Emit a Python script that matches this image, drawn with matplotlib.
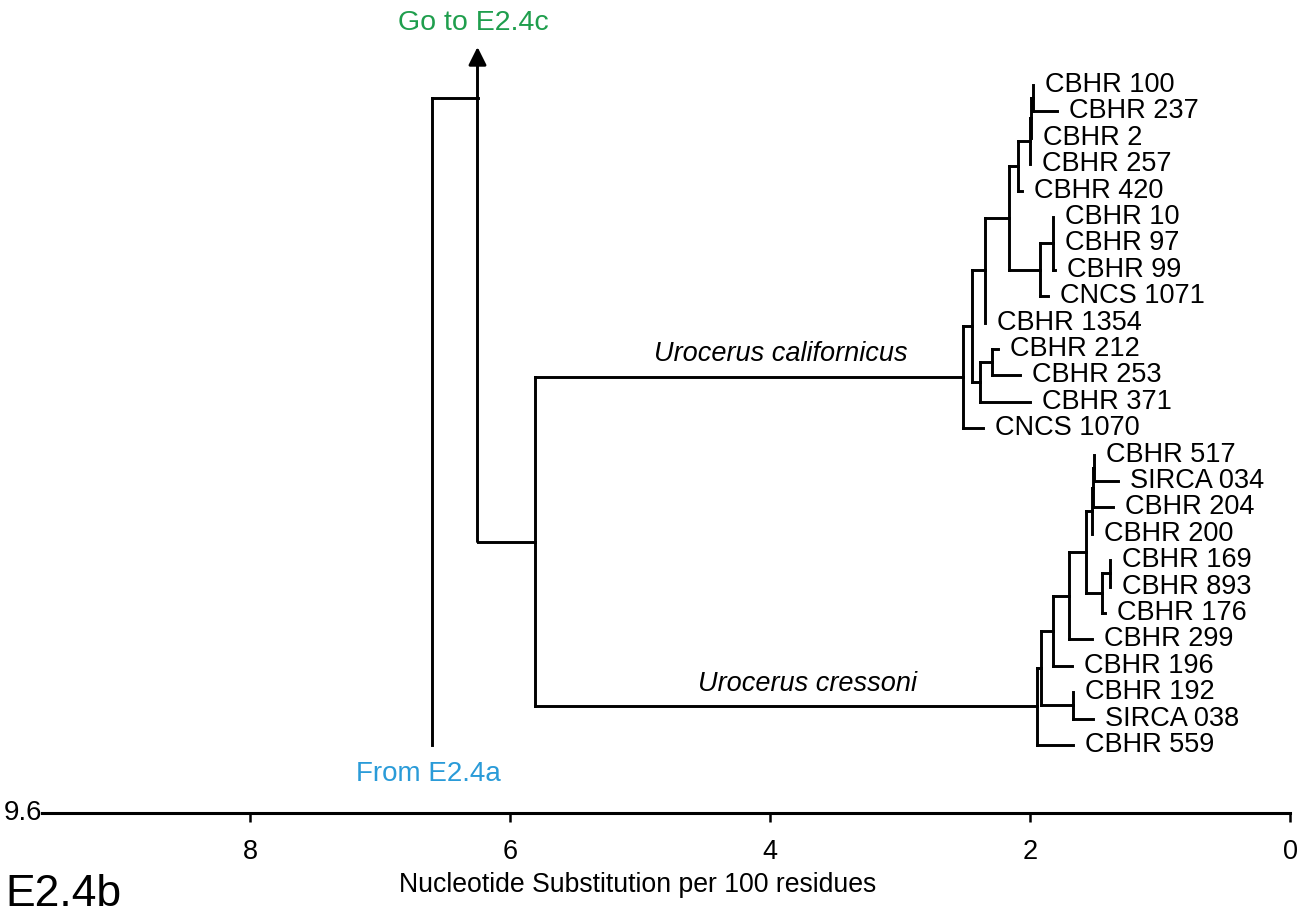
import matplotlib
matplotlib.use("Agg")
import matplotlib.pyplot as plt

plt.rcParams['font.family'] = ['Liberation Sans', 'DejaVu Sans']

# ---------------- data ----------------
leaf_names = ["CBHR 100", "CBHR 237", "CBHR 2", "CBHR 257", "CBHR 420",
              "CBHR 10", "CBHR 97", "CBHR 99", "CNCS 1071", "CBHR 1354",
              "CBHR 212", "CBHR 253", "CBHR 371", "CNCS 1070",
              "CBHR 517", "SIRCA 034", "CBHR 204", "CBHR 200", "CBHR 169",
              "CBHR 893", "CBHR 176", "CBHR 299", "CBHR 196", "CBHR 192",
              "SIRCA 038", "CBHR 559"]
# tip positions (substitutions per 100 residues, measured back from 0)
leaf_tips = [1.977, 1.792, 1.992, 2.000, 2.062,
             1.823, 1.823, 1.808, 1.862, 2.346,
             2.246, 2.077, 2.000, 2.362,
             1.508, 1.323, 1.362, 1.520, 1.385,
             1.385, 1.423, 1.523, 1.677, 1.670,
             1.515, 1.669]

# internal nodes: name, depth, children
node_names = ["n100_237", "n_2", "n_257", "n_420", "n10_97_99", "n_1071",
              "n_upper", "n_1354", "n212_253", "n_371", "n_lower", "californicus",
              "n517_034", "n_204", "n_200", "n169_893", "n_176", "n_mid",
              "n_299", "n_196", "n192_038", "n_inner", "cressoni", "urocerus"]
node_depths = [1.977, 1.992, 2.000, 2.092, 1.823, 1.923,
               2.162, 2.346, 2.292, 2.385, 2.446, 2.515,
               1.508, 1.515, 1.520, 1.385, 1.446, 1.569,
               1.700, 1.823, 1.670, 1.915, 1.946, 5.810]
node_children = [["CBHR 100", "CBHR 237"], ["n100_237", "CBHR 2"], ["n_2", "CBHR 257"],
                 ["n_257", "CBHR 420"], ["CBHR 10", "CBHR 97", "CBHR 99"],
                 ["n10_97_99", "CNCS 1071"], ["n_420", "n_1071"], ["n_upper", "CBHR 1354"],
                 ["CBHR 212", "CBHR 253"], ["n212_253", "CBHR 371"], ["n_1354", "n_371"],
                 ["n_lower", "CNCS 1070"],
                 ["CBHR 517", "SIRCA 034"], ["n517_034", "CBHR 204"], ["n_204", "CBHR 200"],
                 ["CBHR 169", "CBHR 893"], ["n169_893", "CBHR 176"], ["n_200", "n_176"],
                 ["n_mid", "CBHR 299"], ["n_299", "CBHR 196"], ["CBHR 192", "SIRCA 038"],
                 ["n_196", "n192_038"], ["n_inner", "CBHR 559"], ["californicus", "cressoni"]]

link_depth = 6.25     # branch leading to E2.4c
root_depth = 6.60     # branch coming from E2.4a
clade_labels = ["Urocerus californicus", "Urocerus cressoni"]
x_ticks = [8, 6, 4, 2, 0]
x_max = 9.6

# ---------------- layout ----------------
fig = plt.figure(figsize=(13.09, 9.18), dpi=100)
ax = fig.add_axes([42 / 1309, 105 / 918, (1290 - 42) / 1309, 813 / 918])
ax.set_xlim(x_max, 0)
ax.set_ylim(27.58, -3.22)

LW = 2.1
pos_x = {n: t for n, t in zip(leaf_names, leaf_tips)}
pos_y = {n: i for i, n in enumerate(leaf_names)}
node_map = dict(zip(node_names, zip(node_depths, node_children)))


def place(name):
    if name in pos_y:
        return pos_y[name]
    depth, kids = node_map[name]
    ys = [place(k) for k in kids]
    pos_x[name] = depth
    pos_y[name] = (ys[0] + ys[-1]) / 2.0
    return pos_y[name]


place("urocerus")

for name in node_names:
    depth, kids = node_map[name]
    ky = [pos_y[k] for k in kids]
    ax.plot([depth, depth], [min(ky), max(ky)], color='black', lw=LW,
            solid_capstyle='projecting')
    for k in kids:
        if abs(pos_x[k] - depth) > 1e-9:
            ax.plot([depth, pos_x[k]], [pos_y[k], pos_y[k]], color='black', lw=LW,
                    solid_capstyle='projecting')

# leaf labels
for n in leaf_names:
    ax.annotate(n, xy=(pos_x[n], pos_y[n]), xytext=(8.5, 0), textcoords='offset points',
                ha='left', va='center', fontsize=19.5)

# connection from the Urocerus node to the link branch
top_y = pos_y[leaf_names[0]] + 0.49
ax.plot([link_depth, pos_x["urocerus"]], [pos_y["urocerus"]] * 2, color='black', lw=LW)
ax.annotate('', xy=(link_depth, -1.44), xytext=(link_depth, pos_y["urocerus"]),
            arrowprops=dict(arrowstyle='-|>', lw=LW, color='black', mutation_scale=27,
                            shrinkA=0, shrinkB=0))
ax.plot([root_depth, link_depth], [top_y, top_y], color='black', lw=LW,
        solid_capstyle='projecting')
ax.plot([root_depth, root_depth], [top_y, 25.0], color='black', lw=LW,
        solid_capstyle='projecting')

# clade names
ax.text(3.92, 10.2, clade_labels[0], style='italic', fontsize=19.5, ha='center', va='center')
ax.text(3.71, 22.7, clade_labels[1], style='italic', fontsize=19.5, ha='center', va='center')

# link texts
ax.text(link_depth + 0.03, -2.35, "Go to E2.4c", color='#1f9e4d', fontsize=20.5,
        ha='center', va='center')
ax.text(root_depth + 0.03, 26.1, "From E2.4a", color='#2a9bd8', fontsize=20,
        ha='center', va='center')

# axis styling
for s in ['top', 'right', 'left']:
    ax.spines[s].set_visible(False)
ax.spines['bottom'].set_linewidth(2.2)
ax.set_yticks([])
ax.set_xticks(x_ticks)
ax.set_xticklabels([str(t) for t in x_ticks])
ax.tick_params(axis='x', direction='out', length=6.5, width=1.8, labelsize=19.5, pad=12)
ax.text(x_max, 27.58, "9.6", fontsize=20, ha='right', va='center', clip_on=False)

fig.text(638 / 1309, 1 - 885 / 918, "Nucleotide Substitution per 100 residues",
         fontsize=19.2, ha='center', va='center')
fig.text(5 / 1309, 1 - 895 / 918, "E2.4b", fontsize=32, ha='left', va='center')

fig.savefig("out.png", dpi=100)
